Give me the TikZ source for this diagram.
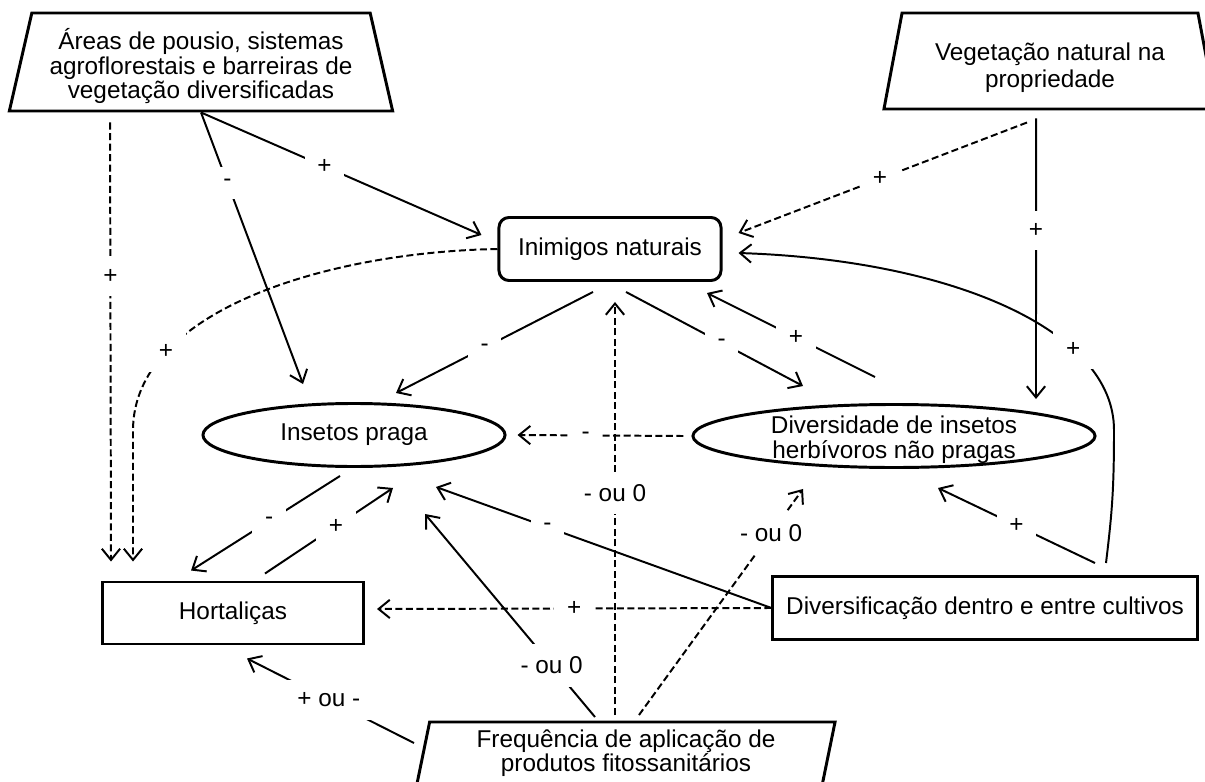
\documentclass[tikz,border=0pt]{standalone}
\usepackage{fontspec}
\setmainfont{Liberation Sans}
\usepackage{tikz}
\usetikzlibrary{arrows.meta,shapes.geometric}

\begin{document}
\begin{tikzpicture}[x=0.025cm,y=-0.025cm,
  every node/.style={font=\fontsize{17.3}{17.5}\selectfont},
  box/.style={draw,line width=2.1pt,inner sep=0pt,align=center},
  trap/.style={box,trapezium,trapezium stretches body},
  lbl/.style={fill=white,inner sep=9pt},
  conn/.style={line width=1.4pt,-{Straight Barb[length=8pt,width=13pt]}},
  dsh/.style={dash pattern=on 5pt off 2.5pt}]
\useasboundingbox (0,0) rectangle (1205,782);

\node[trap,trapezium left angle=75,trapezium right angle=75,minimum width=9.58cm,minimum height=2.45cm] (areas) at (201,62) {\rule{0pt}{21pt}Áreas de pousio, sistemas\\agroflorestais e barreiras de\\vegetação diversificadas};
\node[trap,trapezium left angle=74,trapezium right angle=74,minimum width=8.3cm,minimum height=2.4cm] (vegnat) at (1050,61) {\rule{0pt}{22pt}Vegetação natural na\\[1.8pt]propriedade};
\node[box,rounded corners=0.25cm,minimum width=5.55cm,minimum height=1.575cm] (inim) at (610,249) {Inimigos naturais};
\node[box,ellipse,minimum width=7.55cm,minimum height=1.575cm] (praga) at (354,435) {Insetos praga};
\node[box,ellipse,inner ysep=-3.9pt,minimum width=10.05cm,minimum height=1.575cm] (divers) at (894,436) {\rule{0pt}{18pt}Diversidade de insetos\\herbívoros não pragas};
\node[box,minimum width=6.525cm,minimum height=1.55cm] (hort) at (233,613) {Hortaliças};
\node[box,minimum width=10.6cm,minimum height=1.575cm] (divcult) at (985,608) {Diversificação dentro e entre cultivos};
\node[trap,trapezium left angle=75,trapezium right angle=105,minimum width=10.45cm,minimum height=1.55cm] (freq) at (626,753) {Frequência de aplicação de\\produtos fitossanitários};
\coordinate (bend) at (1114,430);

\path[conn]
(areas.south) edge node[lbl,pos=.44] {+} ([shift={(-16,-14)}]inim.west)
(areas.south) edge node[lbl,pos=.26] {-} ([shift={(-51,-18)}]praga.north)
([shift={(-14,8)}]vegnat.south) edge node[lbl,pos=.4] {+} ([shift={(142,-4)}]divers.north)
([shift={(-17,10)}]inim.south) edge node[lbl,pos=.55] {-} ([shift={(42,-9)}]praga.north)
([shift={(16,10)}]inim.south) edge node[lbl,pos=.54] {-} ([shift={(-91,-17)}]divers.north)
([shift={(-19,-26)}]divers.north) edge node[lbl,pos=.47] {+} ([shift={(97,11)}]inim.south)
([shift={(110,-12)}]divcult.north) edge node[lbl,pos=.5] {+} ([shift={(44,19)}]divers.south)
(divcult.west) edge node[lbl,pos=.668] {-} ([shift={(82,19)}]praga.south)
([shift={(-14,8)}]praga.south) edge node[lbl,pos=.476] {-} ([shift={(-42,-10)}]hort.north)
([shift={(32,-7)}]hort.north) edge node[lbl,pos=.555] {+} ([shift={(39,20)}]praga.south)
([shift={(-31,-36)}]freq.center) edge node[lbl,pos=.255] {- ou 0} ([shift={(71,46)}]praga.south)
([shift={(-212,-10)}]freq.center) edge node[lbl,pos=.51] {+ ou -} ([shift={(14,13)}]hort.south);

\path[conn,dsh]
([shift={(-91,10)}]areas.south) edge node[lbl,pos=.35] {+} ([shift={(-122,-19)}]hort.north)
([shift={(-23,12)}]vegnat.south) edge node[lbl,pos=.51] {+} ([shift={(16,-16)}]inim.east)
([shift={(-8,0)}]divers.west) edge node[lbl,pos=.59] {-} ([shift={(11,0)}]praga.east)
(divcult.west) edge node[lbl,pos=.5] {+} ([shift={(12,-4)}]hort.east)
([shift={(-11,-38)}]freq.center) edge node[lbl,pos=.537] {- ou 0} ([shift={(5,20)}]inim.south)
([shift={(13,-38)}]freq.center) edge node[lbl,pos=.806] {- ou 0} ([shift={(-91,20)}]divers.south);

\draw[conn,dsh] (inim.west) .. controls +(-170,3) and +(0,-120) .. node[lbl,pos=.75] {+} ([shift={(-100,-150)}]hort.north) -- ([shift={(-100,-19)}]hort.north);
\draw[conn] ([shift={(121,-12)}]divcult.north) .. controls +(6,-50) and +(0,60) .. (bend) .. controls +(0,-100) and +(213,7) .. node[lbl,pos=.3] {+} ([shift={(16,4)}]inim.east);
\end{tikzpicture}
\end{document}
